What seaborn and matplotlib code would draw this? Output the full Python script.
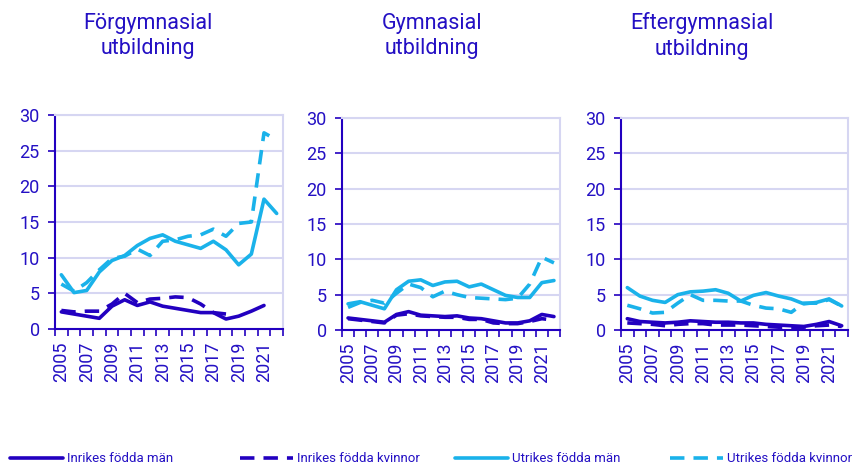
import numpy as np
import pandas as pd
import matplotlib
matplotlib.use("Agg")
import matplotlib.pyplot as plt
import seaborn as sns
from matplotlib.lines import Line2D

years = list(range(2005, 2023))
panels = ["Förgymnasial\nutbildning", "Gymnasial\nutbildning", "Eftergymnasial\nutbildning"]
series_names = ["Inrikes födda män", "Inrikes födda kvinnor", "Utrikes födda män", "Utrikes födda kvinnor"]
nan = np.nan

# Förgymnasial utbildning
forg_inr_man = [2.4, 2.1, 1.8, 1.5, 3.2, 4.1, 3.3, 3.8, 3.2, 2.9, 2.6, 2.3, 2.3, 1.4, 1.8, 2.5, 3.3, nan]
forg_inr_kv = [2.6, 2.4, 2.5, 2.5, 3.5, 5.0, 3.7, 4.2, 4.3, 4.5, 4.4, 3.5, 2.3, 2.1, nan, nan, nan, nan]
forg_utr_man = [7.6, 5.1, 5.4, 8.0, 9.6, 10.3, 11.7, 12.7, 13.2, 12.3, 11.8, 11.3, 12.3, 11.1, 9.0, 10.5, 18.2, 16.2]
forg_utr_kv = [6.3, 5.3, 6.5, 8.3, 9.9, 10.2, 11.2, 10.3, 12.3, 12.5, 13.0, 13.2, 14.0, 13.0, 14.8, 15.0, 27.5, 26.5]

# Gymnasial utbildning
gym_inr_man = [1.7, 1.5, 1.3, 1.1, 2.2, 2.6, 2.1, 2.0, 1.9, 2.0, 1.7, 1.6, 1.3, 1.0, 1.0, 1.3, 2.2, 1.9]
gym_inr_kv = [1.6, 1.4, 1.2, 1.0, 2.1, 2.3, 2.0, 1.9, 1.8, 1.8, 1.5, 1.5, 1.0, 0.9, 0.9, 1.2, 1.6, 1.4]
gym_utr_man = [3.7, 4.0, 3.5, 3.0, 5.7, 6.9, 7.1, 6.3, 6.8, 6.9, 6.1, 6.5, 5.7, 4.9, 4.6, 4.6, 6.7, 7.0]
gym_utr_kv = [3.2, 3.9, 4.2, 3.8, 5.2, 6.5, 6.0, 4.7, 5.5, 5.0, 4.6, 4.5, 4.4, 4.3, 4.5, 6.5, 10.3, 9.5]

# Eftergymnasial utbildning
eft_inr_man = [1.6, 1.2, 1.1, 1.0, 1.1, 1.3, 1.2, 1.1, 1.1, 1.0, 1.0, 0.8, 0.7, 0.6, 0.5, 0.8, 1.2, 0.6]
eft_inr_kv = [1.0, 0.9, 0.8, 0.6, 0.8, 0.9, 0.9, 0.7, 0.7, 0.7, 0.6, 0.5, 0.4, 0.4, 0.4, 0.6, 0.7, 0.5]
eft_utr_man = [6.0, 4.8, 4.2, 3.9, 5.0, 5.4, 5.5, 5.7, 5.2, 4.1, 4.9, 5.3, 4.8, 4.4, 3.7, 3.9, 4.4, 3.4]
eft_utr_kv = [3.5, 3.0, 2.4, 2.5, 3.8, 5.0, 4.2, 4.2, 4.1, 4.1, 3.5, 3.1, 3.0, 2.5, 3.8, 3.8, 4.3, 3.4]

data = {
    panels[0]: [forg_inr_man, forg_inr_kv, forg_utr_man, forg_utr_kv],
    panels[1]: [gym_inr_man, gym_inr_kv, gym_utr_man, gym_utr_kv],
    panels[2]: [eft_inr_man, eft_inr_kv, eft_utr_man, eft_utr_kv],
}

DARK = "#2200C0"
LIGHT = "#1AB2EA"
GRID = "#D6D6F2"
TXT = "#2410C4"
colors = {series_names[0]: DARK, series_names[1]: DARK, series_names[2]: LIGHT, series_names[3]: LIGHT}
dashes = {series_names[0]: "", series_names[1]: (4, 2.5), series_names[2]: "", series_names[3]: (4, 2.5)}

sns.set_theme(style="white")
plt.rcParams["font.family"] = ["Roboto", "DejaVu Sans"]

fig = plt.figure(figsize=(8.66, 4.67), dpi=100)
W, H = 866, 467
boxes = [(55, 283, 115, 329), (342, 560, 118, 330), (621, 848, 118, 330)]
title_x = [148, 432, 702]

for i, p in enumerate(panels):
    l, r, t, b = boxes[i]
    ax = fig.add_axes([l / W, 1 - b / H, (r - l) / W, (b - t) / H])
    rows = []
    for s, vals in zip(series_names, data[p]):
        for y, v in zip(years, vals):
            rows.append({"year": y, "value": v, "series": s})
    df = pd.DataFrame(rows).dropna()
    sns.lineplot(data=df, x="year", y="value", hue="series", style="series",
                 palette=colors, dashes=dashes, hue_order=series_names,
                 style_order=series_names, linewidth=2.6, ax=ax, legend=False)
    ax.set_xlim(2004.5, 2022.5)
    ax.set_ylim(0, 30)
    ax.set_yticks([0, 5, 10, 15, 20, 25, 30])
    ax.yaxis.grid(True, color=GRID, linewidth=1.5)
    ax.set_axisbelow(True)
    ax.set_xticks(list(range(2005, 2023, 2)))
    ax.set_xticklabels([str(y) for y in range(2005, 2023, 2)], rotation=90)
    ax.set_xticks(np.arange(2004.5, 2023, 1), minor=True)
    ax.tick_params(axis="x", which="major", length=0, pad=9, labelsize=13, colors=TXT)
    ax.tick_params(axis="x", which="minor", length=5, width=1.2, color=DARK, bottom=True)
    ax.tick_params(axis="y", length=5, width=1.2, color=DARK, labelsize=13, labelcolor=TXT, left=True, pad=6)
    ax.set_xlabel("")
    ax.set_ylabel("")
    for sp in ["left", "bottom"]:
        ax.spines[sp].set_color(DARK)
        ax.spines[sp].set_linewidth(1.5)
    for sp in ["top", "right"]:
        ax.spines[sp].set_color(GRID)
        ax.spines[sp].set_linewidth(1.5)
    fig.text(title_x[i] / W, 1 - 36 / H, p, ha="center", va="center", fontsize=15.5,
             color=TXT, linespacing=1.3)

legend_x = [10, 240, 455, 670]
for s, lx in zip(series_names, legend_x):
    ln = Line2D([0], [0], color=colors[s], linewidth=2.6)
    if "kvinnor" in s:
        ln.set_dashes((4, 2.5))
    fig.legend([ln], [s], loc="center left", bbox_to_anchor=(lx / W, 1 - 459 / H),
               frameon=False, fontsize=9.5, handlelength=4.0, handletextpad=0.35,
               borderpad=0, borderaxespad=0, labelcolor=TXT)

fig.savefig("out.png", dpi=100)
